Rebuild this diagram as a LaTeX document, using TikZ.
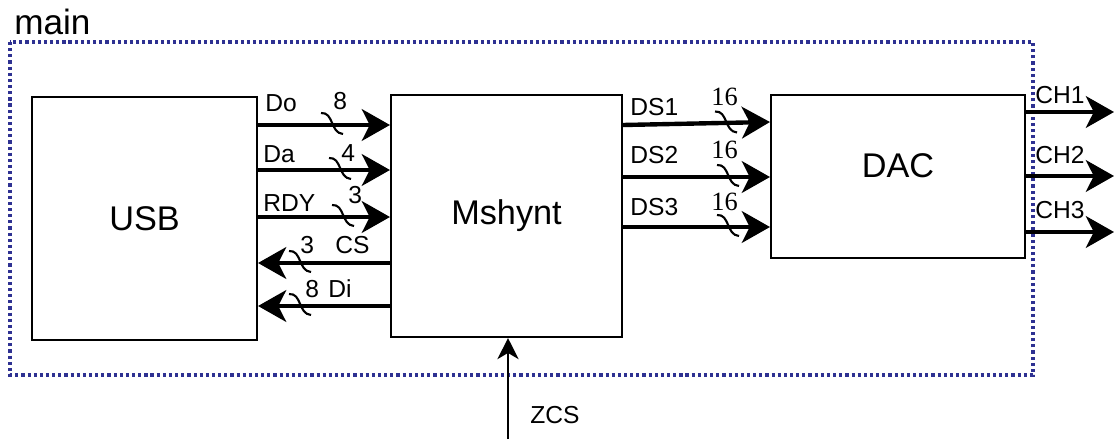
\documentclass[tikz,border=0pt]{standalone}
\usepackage{fontspec}
\setmainfont{Liberation Sans}
\newfontfamily\numserif{Liberation Serif}
\usepackage{tikz}
\usetikzlibrary{arrows.meta,positioning,calc}
\definecolor{azulframe}{HTML}{2E3192}

\tikzset{
  blk/.style={draw, line width=1.2pt, fill=white, inner sep=0pt},
  bus/.style={line width=2.5pt, -{Stealth[length=16pt, width=18pt, inset=4.5pt]}},
  sig/.style={inner sep=0pt, anchor=base west, font=\fontsize{14}{16}\selectfont},
  wnum/.style={inner sep=0pt, anchor=base west, font=\fontsize{14}{16}\selectfont},
  buscut/.pic={\draw[line width=1.2pt] (-11,-12) .. controls (2,-13) and (-2,8) .. (11,9);}
}

\begin{document}
\begin{tikzpicture}[x=0.02cm, y=-0.02cm]
\useasboundingbox (0,0) rectangle (1114,439);
% frame
\draw[azulframe, line width=1.9pt, dash pattern=on 1.8pt off 1.7pt] (10,42) rectangle (1033,375);
\node[inner sep=0pt, anchor=base west, font=\fontsize{20}{22}\selectfont] (mainlbl) at (14,35) {main};
% blocks
\node[blk, minimum width=4.5cm, minimum height=4.86cm, font=\fontsize{19.5}{21}\selectfont] (usb) at (144.5,218.5) {USB};
\node[blk, minimum width=4.62cm, minimum height=4.84cm, font=\fontsize{19.5}{21}\selectfont] (msh) at (506.5,216) {Mshynt};
\node[blk, minimum width=5.08cm, minimum height=3.26cm,
      label={[font=\fontsize{19.5}{21}\selectfont, yshift=6.3pt]center:DAC}] (dac) at (898,176.5) {};
\coordinate (edge) at (1114,0);
\coordinate (zcs) at (508,439);
% buses usb <-> msh
\foreach \yy in {125,170,217}{
  \draw[bus] (usb.east |- 0,\yy) -- (msh.west |- 0,\yy);
}
\foreach \yy in {263,306}{
  \draw[bus] (msh.west |- 0,\yy) -- (usb.east |- 0,\yy);
}
% buses msh -> dac -> out
\draw[bus] (msh.east |- 0,125) -- (dac.west |- 0,122);
\foreach \yy in {177,227}{
  \draw[bus] (msh.east |- 0,\yy) -- (dac.west |- 0,\yy);
}
\foreach \yy in {112,176,232}{
  \draw[bus] (dac.east |- 0,\yy) -- (edge |- 0,\yy);
}
\draw[line width=1.2pt, -{Stealth[length=12pt, width=12pt, inset=3.5pt]}] (zcs) -- (msh.south -| zcs);
% bus width marks
\foreach \xx/\yy in {332/125, 340/170, 343/217, 300/263, 300/306, 726/123.5, 728/177, 728/227}{
  \pic at (\xx,\yy) {buscut};
}
% labels
\foreach \lbl/\xx/\yy in {Do/265/112, Da/263/162, RDY/263/211, CS/335/253, Di/328/297,
                          DS1/630/115, DS2/630/163, DS3/630/215,
                          CH1/1035/103, CH2/1035/163, CH3/1035/218, ZCS/530/423}{
  \node[sig] (lbl-\lbl) at (\xx,\yy) {\lbl};
}
\foreach \w/\xx/\yy [count=\i] in {8/333/110, 4/341/161, 3/348/203, 3/300/253, 8/305/297}{
  \node[wnum] (w-\i) at (\xx,\yy) {\w};
}
\foreach \yy [count=\i] in {105,158,210}{
  \node[wnum, font=\numserif\fontsize{15}{16}\selectfont] (ws-\i) at (711,\yy) {16};
}
\end{tikzpicture}
\end{document}
